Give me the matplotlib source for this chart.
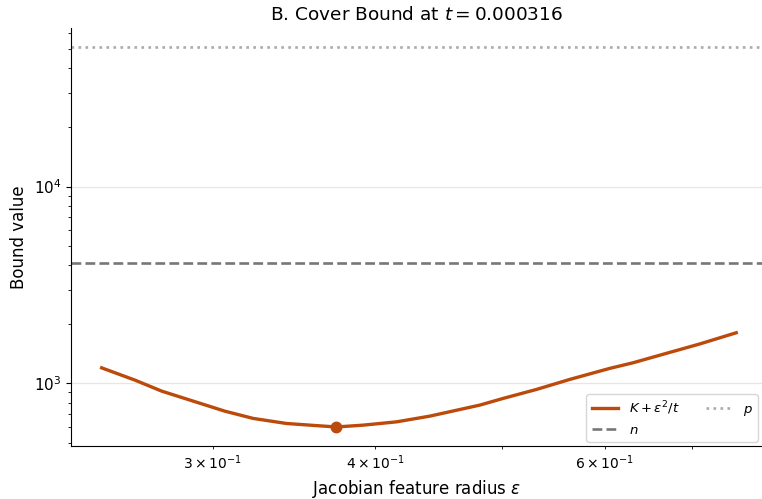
import numpy as np
import matplotlib.pyplot as plt

# valeurs
eps = [0.2465, 0.2615, 0.2741, 0.3065, 0.3223, 0.3418, 0.3625, 0.3734,
       0.3915, 0.4152, 0.4403, 0.4811, 0.5013, 0.5318, 0.5641, 0.6053,
       0.6308, 0.6690, 0.7095, 0.7572]
bound = [1200, 1039, 914, 723, 664, 626, 609, 601,
         614, 638, 682, 776, 839, 932, 1048, 1192,
         1273, 1421, 1585, 1809]
eps_best = 0.3734
bound_best = 601
n_val = 4096
p_val = 51200
t_val = "0.000316"

curve_color = '#bb4a0b'

fig = plt.figure(figsize=(7.62, 4.99), dpi=100)
ax = fig.add_axes([0.0932, 0.1062, 0.9068, 0.8377])

ax.plot(eps, bound, color=curve_color, lw=2.4, label=r"$K+\varepsilon^2/t$", zorder=3)
ax.plot([eps_best], [bound_best], 'o', color=curve_color, ms=7.5, zorder=4)
ax.axhline(n_val, color='#777777', ls='--', lw=1.9, label=r"$n$")
ax.axhline(p_val, color='#aaaaaa', ls=':', lw=1.9, label=r"$p$")

ax.set_xscale('log')
ax.set_yscale('log')
ax.set_xlim(0.2335, 0.7925)
ax.set_ylim(481, 63900)

ax.grid(axis='y', which='major', color='#e6e6e6', lw=0.9)
ax.set_axisbelow(True)
for s in ['top', 'right']:
    ax.spines[s].set_visible(False)

ax.set_xlabel(r"Jacobian feature radius $\varepsilon$", fontsize=12)
ax.set_ylabel("Bound value", fontsize=12)
ax.set_title(r"B. Cover Bound at $t=$" + t_val, fontsize=13.3)
ax.tick_params(labelsize=11)

ax.legend(loc='lower right', ncol=2, fontsize=9.5, edgecolor='#cccccc',
          borderaxespad=0.3)

plt.savefig("out.png", dpi=100)
